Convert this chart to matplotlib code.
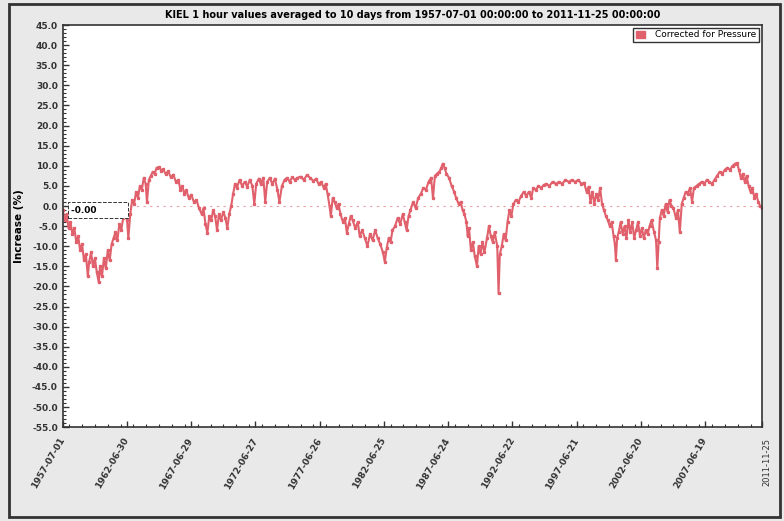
from datetime import datetime, timedelta

import matplotlib
matplotlib.use("Agg")
import matplotlib.pyplot as plt
import matplotlib.dates as mdates
from matplotlib.patches import Patch, Rectangle
from matplotlib.ticker import MultipleLocator, FormatStrFormatter

plt.rcParams['axes.unicode_minus'] = False

# values (decimal year, increase in %)
years = [
    1957.50, 1957.65, 1957.80, 1957.95, 1958.10, 1958.25, 1958.40, 1958.55, 1958.70, 1958.85,
    1959.00, 1959.15, 1959.30, 1959.45, 1959.55, 1959.70, 1959.85, 1960.00, 1960.15, 1960.30,
    1960.40, 1960.55, 1960.70, 1960.85, 1961.00, 1961.15, 1961.30, 1961.45, 1961.60, 1961.75,
    1961.90, 1962.05, 1962.20, 1962.35, 1962.50, 1962.60, 1962.75, 1962.90, 1963.05, 1963.20,
    1963.35, 1963.50, 1963.65, 1963.80, 1963.95, 1964.05, 1964.20, 1964.35, 1964.50, 1964.65,
    1964.80, 1965.00, 1965.15, 1965.30, 1965.50, 1965.70, 1965.90, 1966.10, 1966.30, 1966.50,
    1966.65, 1966.80, 1966.95, 1967.10, 1967.30, 1967.50, 1967.70, 1967.90, 1968.10, 1968.30,
    1968.45, 1968.60, 1968.75, 1968.90, 1969.05, 1969.20, 1969.35, 1969.50, 1969.65, 1969.80,
    1970.00, 1970.15, 1970.30, 1970.45, 1970.60, 1970.75, 1970.90, 1971.05, 1971.25, 1971.45,
    1971.65, 1971.85, 1972.05, 1972.25, 1972.40, 1972.55, 1972.75, 1972.90, 1973.10, 1973.25,
    1973.40, 1973.60, 1973.80, 1974.00, 1974.20, 1974.35, 1974.55, 1974.75, 1974.95, 1975.15,
    1975.35, 1975.55, 1975.75, 1976.00, 1976.25, 1976.50, 1976.75, 1977.00, 1977.20, 1977.40,
    1977.60, 1977.80, 1977.95, 1978.10, 1978.25, 1978.35, 1978.50, 1978.65, 1978.80, 1978.95,
    1979.10, 1979.30, 1979.45, 1979.60, 1979.75, 1979.90, 1980.05, 1980.25, 1980.45, 1980.60,
    1980.80, 1981.00, 1981.20, 1981.40, 1981.60, 1981.80, 1982.00, 1982.20, 1982.40, 1982.55,
    1982.70, 1982.85, 1983.00, 1983.15, 1983.35, 1983.55, 1983.75, 1983.95, 1984.10, 1984.25,
    1984.40, 1984.55, 1984.75, 1984.95, 1985.15, 1985.35, 1985.55, 1985.75, 1985.95, 1986.15,
    1986.30, 1986.45, 1986.60, 1986.80, 1986.95, 1987.05, 1987.20, 1987.35, 1987.55, 1987.75,
    1987.95, 1988.10, 1988.30, 1988.45, 1988.60, 1988.75, 1988.90, 1989.00, 1989.10, 1989.25,
    1989.40, 1989.55, 1989.72, 1989.85, 1990.00, 1990.15, 1990.30, 1990.50, 1990.65, 1990.80,
    1990.95, 1991.10, 1991.30, 1991.40, 1991.50, 1991.65, 1991.80, 1991.95, 1992.10, 1992.25,
    1992.40, 1992.55, 1992.75, 1992.95, 1993.15, 1993.35, 1993.55, 1993.75, 1993.95, 1994.10,
    1994.30, 1994.50, 1994.70, 1994.90, 1995.10, 1995.35, 1995.60, 1995.85, 1996.10, 1996.35,
    1996.60, 1996.85, 1997.10, 1997.35, 1997.60, 1997.85, 1998.05, 1998.25, 1998.40, 1998.55,
    1998.70, 1998.85, 1999.00, 1999.15, 1999.30, 1999.45, 1999.60, 1999.75, 1999.90, 2000.05,
    2000.20, 2000.35, 2000.45, 2000.53, 2000.62, 2000.75, 2000.90, 2001.05, 2001.20, 2001.35,
    2001.50, 2001.65, 2001.80, 2001.95, 2002.10, 2002.25, 2002.40, 2002.55, 2002.70, 2002.85,
    2003.00, 2003.15, 2003.30, 2003.50, 2003.65, 2003.75, 2003.85, 2003.95, 2004.10, 2004.25,
    2004.40, 2004.55, 2004.70, 2004.85, 2005.00, 2005.20, 2005.35, 2005.50, 2005.65, 2005.80,
    2005.95, 2006.10, 2006.30, 2006.45, 2006.60, 2006.80, 2007.00, 2007.20, 2007.40, 2007.60,
    2007.80, 2008.00, 2008.20, 2008.40, 2008.60, 2008.80, 2009.00, 2009.20, 2009.40, 2009.60,
    2009.80, 2009.95, 2010.10, 2010.25, 2010.40, 2010.55, 2010.70, 2010.85, 2011.00, 2011.15,
    2011.30, 2011.45, 2011.60, 2011.75, 2011.90,
]
increase = [
    -1.0, -3.5, -2.0, -5.5, -4.0, -7.0, -5.5, -9.0, -7.5, -11.0,
    -9.5, -13.5, -12.0, -17.5, -14.0, -11.5, -15.0, -13.0, -16.5, -19.0,
    -15.0, -17.5, -13.0, -15.5, -11.0, -13.5, -9.5, -8.0, -6.5, -8.5,
    -4.5, -6.0, -3.0, -1.0, -3.5, -8.0, -2.0, 1.5, 0.5, 3.5,
    2.0, 5.0, 4.0, 7.0, 5.5, 1.0, 6.5, 7.5, 8.5, 8.0,
    9.5, 9.7, 8.8, 9.2, 8.0, 8.6, 7.2, 7.8, 6.0, 6.5,
    4.0, 5.0, 3.0, 4.0, 2.0, 2.8, 1.0, 1.5, -0.5, -2.0,
    -0.5, -4.5, -6.7, -2.5, -3.5, -1.0, -2.5, -6.0, -2.0, -3.5,
    -1.5, -3.0, -5.5, -2.0, 0.0, 3.0, 5.5, 4.5, 6.5, 5.0,
    6.0, 4.8, 6.5, 5.0, 0.5, 5.5, 6.8, 5.5, 7.0, 1.0,
    6.0, 7.0, 5.5, 6.8, 4.0, 1.0, 5.0, 6.5, 7.0, 6.0,
    7.2, 6.5, 7.0, 7.3, 6.5, 7.7, 7.0, 6.2, 6.8, 5.5,
    6.0, 4.5, 5.5, 3.0, 0.0, -2.5, 2.0, 1.0, -0.5, 0.5,
    -2.0, -4.0, -3.0, -6.7, -4.5, -2.5, -3.5, -5.5, -4.0, -7.5,
    -6.0, -8.0, -10.0, -7.0, -8.5, -6.0, -8.0, -9.5, -11.5, -13.9,
    -10.5, -8.0, -9.0, -6.0, -5.0, -3.0, -4.5, -2.0, -4.0, -6.0,
    -2.5, -1.0, 1.0, -0.5, 2.0, 3.0, 4.5, 4.0, 6.0, 7.0,
    2.0, 7.5, 8.0, 8.5, 9.5, 10.5, 9.5, 8.0, 7.0, 5.0,
    3.5, 2.0, 0.5, 1.0, -1.0, -2.0, -4.0, -7.5, -5.5, -11.0,
    -9.0, -12.5, -15.0, -10.0, -12.0, -9.0, -11.5, -8.0, -5.0, -7.5,
    -9.0, -6.5, -10.0, -21.7, -12.0, -10.0, -7.0, -8.5, -4.0, -1.0,
    -2.5, 0.5, 1.5, 1.0, 2.5, 3.5, 2.5, 3.5, 2.0, 4.5,
    4.0, 5.0, 4.5, 5.2, 5.5, 5.0, 6.0, 5.5, 6.0, 5.5,
    6.5, 6.0, 6.5, 6.0, 6.5, 5.5, 5.8, 3.5, 4.8, 1.0,
    3.5, 0.5, 3.0, 1.5, 4.5, 0.5, -1.0, -2.5, -3.5, -5.0,
    -4.0, -7.5, -9.5, -13.4, -8.0, -6.5, -4.0, -7.0, -5.0, -8.0,
    -3.5, -6.5, -4.0, -8.0, -6.0, -4.0, -7.5, -5.5, -8.0, -6.0,
    -7.0, -5.0, -3.5, -6.5, -8.5, -15.5, -9.0, -3.0, -1.0, -2.5,
    0.5, -1.5, 1.5, 0.0, -0.5, -3.0, -1.0, -6.5, 0.5, 2.0,
    3.5, 3.0, 4.5, 1.0, 4.5, 5.0, 5.5, 6.0, 5.5, 6.5,
    6.0, 5.5, 6.5, 7.5, 8.5, 8.0, 9.0, 9.5, 9.0, 10.0,
    10.5, 10.7, 9.0, 7.0, 8.0, 6.0, 7.5, 5.0, 3.5, 4.5,
    2.0, 3.0, 1.0, 0.0, -0.5,
]

tick_labels = ["1957-07-01", "1962-06-30", "1967-06-29", "1972-06-27", "1977-06-26",
               "1982-06-25", "1987-06-24", "1992-06-22", "1997-06-21", "2002-06-20",
               "2007-06-19", "2011-11-25"]


def to_date(y):
    yr = int(y)
    return datetime(yr, 1, 1) + timedelta(days=(y - yr) * 365.25)


dates = [to_date(y) for y in years]
red = "#e0606c"

fig = plt.figure(figsize=(7.84, 5.21), dpi=100, facecolor="#e9e9e9")
ax = fig.add_axes([0.080, 0.180, 0.892, 0.772])
ax.set_facecolor("white")

ax.axhline(0, color="#e8a0a6", lw=0.8, ls=(0, (2, 4)), zorder=1)
ax.plot(dates, increase, color=red, lw=1.5, marker="s", ms=1.4, zorder=2)

ax.set_ylim(-55, 45)
ax.set_xlim(datetime(1957, 7, 1), datetime(2011, 11, 25))
ax.yaxis.set_major_locator(MultipleLocator(5))
ax.yaxis.set_minor_locator(MultipleLocator(1))
ax.yaxis.set_major_formatter(FormatStrFormatter("%.1f"))

ticks = [datetime.strptime(t, "%Y-%m-%d") for t in tick_labels]
ax.set_xticks(ticks)
ax.set_xticklabels(tick_labels)
ax.xaxis.set_minor_locator(mdates.YearLocator())

ax.tick_params(which="both", direction="in", colors="#333333")
ax.tick_params(which="major", length=4, width=1)
ax.tick_params(which="minor", length=2, width=0.8)
ax.tick_params(axis="y", labelsize=6.5)
ax.tick_params(axis="x", labelsize=6.5, pad=8)
for lab in ax.get_yticklabels():
    lab.set_fontweight("bold")
labs = ax.get_xticklabels()
for lab in labs[:-1]:
    lab.set_fontweight("bold")
    lab.set_rotation(60)
    lab.set_ha("right")
    lab.set_rotation_mode("anchor")
    lab.set_va("center")
labs[-1].set_rotation(90)
labs[-1].set_ha("right")
labs[-1].set_va("top")
labs[-1].set_rotation_mode("anchor")
labs[-1].set_fontsize(6)
labs[-1].set_x(labs[-1].get_position()[0])

for s in ax.spines.values():
    s.set_color("#333333")
    s.set_linewidth(1.2)

ax.set_ylabel("Increase (%)", fontsize=7.5, fontweight="bold", labelpad=6)
ax.set_title("KIEL 1 hour values averaged to 10 days from 1957-07-01 00:00:00 to 2011-11-25 00:00:00",
             fontsize=7, fontweight="bold", pad=5)

ax.text(0.012, 0.54, "-0.00         ", transform=ax.transAxes, fontsize=6.5, fontweight="bold",
        va="center", ha="left",
        bbox=dict(boxstyle="square,pad=0.4", fc="white", ec="#333333", ls="--", lw=0.7))

ax.legend(handles=[Patch(color=red, label="Corrected for Pressure")], loc="upper right",
          fontsize=6.5, frameon=True, fancybox=False, edgecolor="#333333", framealpha=1,
          handlelength=1, handleheight=0.8, borderaxespad=0.3, handletextpad=1.2,
          borderpad=0.3)

fig.patches.append(Rectangle((0.012, 0.008), 0.983, 0.984, transform=fig.transFigure,
                             fill=False, ec="#333333", lw=2))

fig.savefig("out.png", dpi=100, facecolor=fig.get_facecolor())
